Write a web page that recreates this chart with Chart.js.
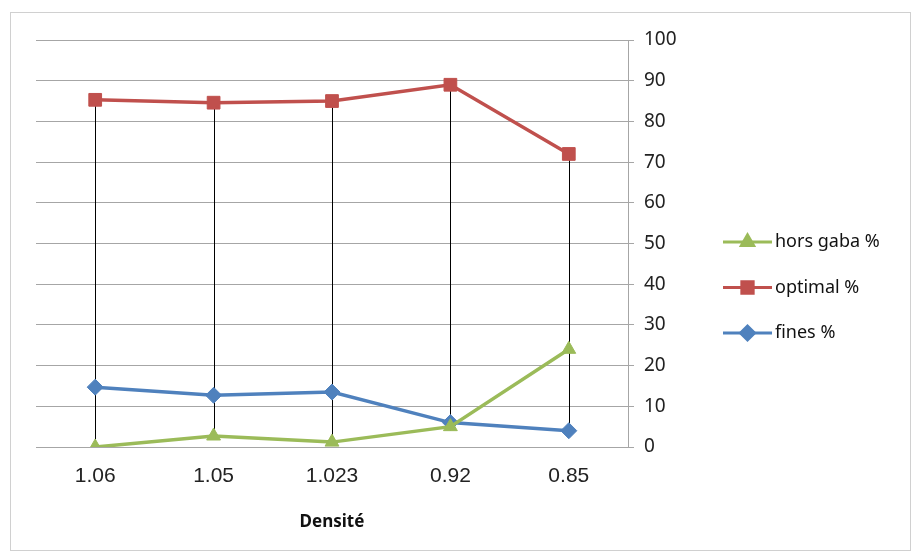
<!DOCTYPE html>
<html>
<head>
<meta charset="utf-8">
<script src="https://cdn.jsdelivr.net/npm/chart.js@4.4.1/dist/chart.umd.min.js"></script>
<style>
  html, body { margin: 0; padding: 0; background: #fff; }
  #wrap { position: relative; width: 915px; height: 554px; }
  #frame { position: absolute; left: 10px; top: 12px; width: 901px; height: 539px; border: 1px solid #d0d0d0; box-sizing: border-box; pointer-events: none; }
</style>
</head>
<body>
<div id="wrap">
  <canvas id="chart" width="915" height="554"></canvas>
  <div id="frame"></div>
</div>
<script>
// data
const densites = ["1.06", "1.05", "1.023", "0.92", "0.85"];
const horsGaba = [0, 2.7, 1.2, 5, 24];
const optimal = [85.3, 84.6, 85.0, 89, 72];
const fines = [14.7, 12.7, 13.5, 6, 4];
const seriesNames = ["hors gaba %", "optimal %", "fines %"];
const yTicks = [0, 10, 20, 30, 40, 50, 60, 70, 80, 90, 100];

const GREEN = "#9bbb59", RED = "#c0504d", BLUE = "#4f81bd";

// high-low lines like excel (black verticals from max to min)
const hiLoLines = {
  id: "hiLoLines",
  beforeDatasetsDraw(chart) {
    const { ctx, scales: { x, y } } = chart;
    ctx.save();
    ctx.strokeStyle = "#000";
    ctx.lineWidth = 1;
    densites.forEach((d, i) => {
      const vals = chart.data.datasets.map(ds => ds.data[i]);
      const px = Math.round(x.getPixelForValue(i)) + 0.5;
      ctx.beginPath();
      ctx.moveTo(px, y.getPixelForValue(Math.max(...vals)));
      ctx.lineTo(px, y.getPixelForValue(Math.min(...vals)));
      ctx.stroke();
    });
    ctx.restore();
  }
};

// legend drawn by hand: line + marker + label
const sideLegend = {
  id: "sideLegend",
  afterDraw(chart) {
    const { ctx } = chart;
    const x0 = 723, x1 = 772, top = 242, gap = 45.5;
    ctx.save();
    chart.data.datasets.forEach((ds, i) => {
      const yy = top + i * gap;
      ctx.strokeStyle = ds.borderColor;
      ctx.lineWidth = 3;
      ctx.beginPath();
      ctx.moveTo(x0, yy);
      ctx.lineTo(x1, yy);
      ctx.stroke();
      Chart.helpers.drawPoint(ctx, {
        pointStyle: ds.pointStyle, radius: ds.pointRadius - 1, rotation: 0, borderWidth: 1
      }, (x0 + x1) / 2, yy);
      ctx.fillStyle = ds.pointBackgroundColor;
      ctx.strokeStyle = ds.pointBorderColor;
      ctx.fill();
      ctx.fillStyle = "#111";
      ctx.font = "18px 'Noto Sans'";
      ctx.textBaseline = "middle";
      ctx.fillText(ds.label, x1 + 3, yy);
    });
    ctx.restore();
  }
};

function serie(label, data, color, style, radius) {
  return {
    label, data,
    borderColor: color, backgroundColor: color,
    pointBackgroundColor: color, pointBorderColor: color,
    pointStyle: style, pointRadius: radius, pointBorderWidth: 1,
    borderWidth: 3.5, tension: 0
  };
}

new Chart(document.getElementById("chart"), {
  type: "line",
  data: {
    labels: densites,
    datasets: [
      serie(seriesNames[0], horsGaba, GREEN, "triangle", 8),
      serie(seriesNames[1], optimal, RED, "rect", 9),
      serie(seriesNames[2], fines, BLUE, "rectRot", 8)
    ]
  },
  options: {
    responsive: false,
    animation: false,
    layout: { padding: { left: 36, right: 227, top: 40, bottom: 22 } },
    plugins: { legend: { display: false }, tooltip: { enabled: false } },
    scales: {
      x: {
        offset: true,
        grid: { display: false, drawTicks: false },
        border: { display: false },
        ticks: { color: "#222", font: { family: "'Liberation Sans'", size: 21 }, padding: 17 },
        title: { display: true, text: "Densité", color: "#111", font: { family: "'Noto Sans'", size: 17, weight: "bold" }, padding: { top: 4, bottom: 0 } },
        afterFit(s) { s.height = 85; }
      },
      y: {
        position: "right",
        min: 0, max: 100,
        afterBuildTicks(s) { s.ticks = yTicks.map(v => ({ value: v })); },
        grid: { color: "#a6a6a6", lineWidth: 1, tickLength: 6, drawTicks: true },
        border: { color: "#a6a6a6" },
        ticks: { color: "#222", font: { family: "'Noto Sans'", size: 19 }, padding: 10 },
        afterFit(s) { s.width = 60; }
      }
    }
  },
  plugins: [hiLoLines, sideLegend]
});
</script>
</body>
</html>
